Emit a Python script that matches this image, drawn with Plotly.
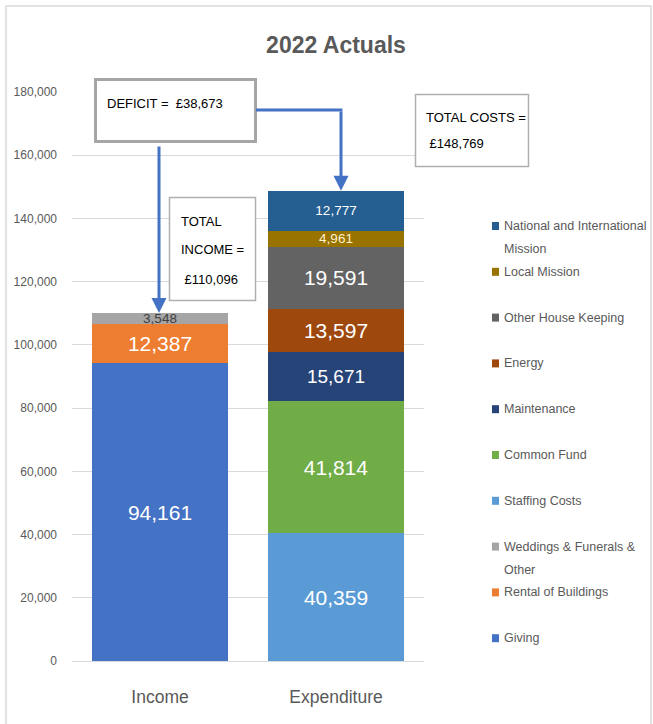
import plotly.graph_objects as go

# ---------------- data ----------------
categories = ["Income", "Expenditure"]

income_names = ["Giving", "Rental of Buildings", "Weddings & Funerals & Other"]
income_values = [94161, 12387, 3548]

expenditure_names = ["Staffing Costs", "Common Fund", "Maintenance", "Energy",
                     "Other House Keeping", "Local Mission",
                     "National and International Mission"]
expenditure_values = [40359, 41814, 15671, 13597, 19591, 4961, 12777]

y_ticks = [0, 20000, 40000, 60000, 80000, 100000, 120000, 140000, 160000, 180000]

title_text = "2022 Actuals"
deficit_text = "DEFICIT =\u00a0\u00a0£38,673"
income_box_lines = ["TOTAL", "INCOME =", "\u00a0£110,096"]
costs_box_lines = ["TOTAL COSTS =", "\u00a0£148,769"]

# legend (top to bottom) with wrapped lines
legend_entries = [
    ["National and International", "Mission"],
    ["Local Mission"],
    ["Other House Keeping"],
    ["Energy"],
    ["Maintenance"],
    ["Common Fund"],
    ["Staffing Costs"],
    ["Weddings & Funerals &", "Other"],
    ["Rental of Buildings"],
    ["Giving"],
]

# ---------------- styles ----------------
income_colors = ["#4472C4", "#ED7D31", "#A5A5A5"]
income_label_colors = ["#FFFFFF", "#FFFFFF", "#404040"]
income_label_sizes = [21, 21, 13.5]

exp_colors = ["#5B9BD5", "#70AD47", "#264478", "#9E480E", "#636363", "#997300", "#255E91"]
exp_label_colors = ["#FFFFFF", "#FFFFFF", "#FFFFFF", "#FFFFFF", "#FFFFFF", "#FFF2CC", "#FFFFFF"]
exp_label_sizes = [21, 21, 19, 21, 21, 13.5, 13.5]

legend_colors = exp_colors[::-1] + income_colors[::-1]

FONT = "Liberation Sans, Arial, sans-serif"
TXT = "#595959"
ARROW = "#4472C4"

W, H = 653, 724
L, R, T, B = 72, 424, 92, 661


def px(x):
    return (x - L) / (R - L)


def py(y):
    return (B - y) / (B - T)


fig = go.Figure()

for name, val, col, lc, ls in zip(income_names, income_values, income_colors,
                                   income_label_colors, income_label_sizes):
    fig.add_trace(go.Bar(
        x=[categories[0]], y=[val], name=name, marker_color=col,
        marker_line_width=0,
        texttemplate="%{y:,.0f}", textposition="inside", insidetextanchor="middle",
        textangle=0, constraintext="none",
        textfont=dict(family=FONT, size=ls, color=lc), showlegend=False,
        hoverinfo="name+y",
    ))

for name, val, col, lc, ls in zip(expenditure_names, expenditure_values, exp_colors,
                                   exp_label_colors, exp_label_sizes):
    fig.add_trace(go.Bar(
        x=[categories[1]], y=[val], name=name, marker_color=col,
        marker_line_width=0,
        texttemplate="%{y:,.0f}", textposition="inside", insidetextanchor="middle",
        textangle=0, constraintext="none",
        textfont=dict(family=FONT, size=ls, color=lc), showlegend=False,
        hoverinfo="name+y",
    ))

income_total = sum(income_values)
exp_total = sum(expenditure_values)

shapes = []
annotations = []

# outer chart border
shapes.append(dict(type="rect", xref="paper", yref="paper",
                   x0=px(6), x1=px(651), y0=py(740), y1=py(6),
                   line=dict(color="#D9D9D9", width=1.5), layer="below"))

# DEFICIT box
shapes.append(dict(type="rect", xref="paper", yref="paper",
                   x0=px(95.5), x1=px(255.5), y0=py(141.5), y1=py(79.5),
                   fillcolor="white", line=dict(color="#A6A6A6", width=3), layer="above"))
annotations.append(dict(xref="paper", yref="paper", x=px(105), y=py(104),
                        xanchor="left", yanchor="middle", showarrow=False,
                        text=deficit_text, font=dict(family=FONT, size=13, color="#000000")))

# TOTAL INCOME box
shapes.append(dict(type="rect", xref="paper", yref="paper",
                   x0=px(169.5), x1=px(255.5), y0=py(300.5), y1=py(197.5),
                   fillcolor="white", line=dict(color="#AFAFAF", width=1.5), layer="above"))
for line, yy in zip(income_box_lines, [221, 249, 279]):
    annotations.append(dict(xref="paper", yref="paper", x=px(179), y=py(yy),
                            xanchor="left", yanchor="middle", showarrow=False,
                            text=line, font=dict(family=FONT, size=13, color="#000000")))

# TOTAL COSTS box
shapes.append(dict(type="rect", xref="paper", yref="paper",
                   x0=px(415.5), x1=px(528.5), y0=py(166.5), y1=py(94.5),
                   fillcolor="white", line=dict(color="#AFAFAF", width=1.5), layer="above"))
for line, yy in zip(costs_box_lines, [117, 143]):
    annotations.append(dict(xref="paper", yref="paper", x=px(424), y=py(yy),
                            xanchor="left", yanchor="middle", showarrow=False,
                            text=line, font=dict(family=FONT, size=13, color="#000000")))

# connector: horizontal segment from deficit box to expenditure arrow
shapes.append(dict(type="line", xref="paper", yref="paper",
                   x0=px(256), x1=px(342.5), y0=py(110), y1=py(110),
                   line=dict(color=ARROW, width=3), layer="above"))

# arrows down to the bar totals
annotations.append(dict(x=categories[0], y=income_total, xref="x", yref="y",
                        ax=0, ay=-(B - 145 - income_total * (B - T) / 180000),
                        showarrow=True, arrowhead=2, arrowsize=1, arrowwidth=3,
                        arrowcolor=ARROW, text="", xshift=-1))
annotations.append(dict(x=categories[1], y=exp_total, xref="x", yref="y",
                        ax=0, ay=-(B - 110 - exp_total * (B - T) / 180000),
                        showarrow=True, arrowhead=2, arrowsize=1, arrowwidth=3,
                        arrowcolor=ARROW, text="", xshift=5))

# manual legend
slot_top = 226
slot_step = 45.8
for i, (lines, col) in enumerate(zip(legend_entries, legend_colors)):
    yc = slot_top + i * slot_step
    shapes.append(dict(type="rect", xref="paper", yref="paper",
                       x0=px(492), x1=px(499), y0=py(yc + 4), y1=py(yc - 4),
                       fillcolor=col, line=dict(width=0)))
    for j, ln in enumerate(lines):
        annotations.append(dict(xref="paper", yref="paper", x=px(502), y=py(yc + j * 23),
                                xanchor="left", yanchor="middle", showarrow=False,
                                text=ln, font=dict(family=FONT, size=12.5, color=TXT)))

fig.update_layout(
    width=W, height=H,
    margin=dict(l=L, r=W - R, t=T, b=H - B, pad=0),
    paper_bgcolor="white", plot_bgcolor="white",
    barmode="stack", bargap=0.227,
    title=dict(text=title_text, x=336 / W, xref="container", xanchor="center",
               y=1 - 45 / H, yref="container", yanchor="middle",
               font=dict(family=FONT, size=23, color=TXT, weight="bold")),
    xaxis=dict(categoryorder="array", categoryarray=categories, automargin=False,
               tickfont=dict(family=FONT, size=17.5, color=TXT),
               showline=False, ticks="", ticklabelstandoff=23, showgrid=False),
    yaxis=dict(range=[0, 180000], tickvals=y_ticks, tickformat=",", automargin=False,
               tickfont=dict(family=FONT, size=12, color=TXT),
               showgrid=True, gridcolor="#D9D9D9", gridwidth=1,
               zeroline=True, zerolinecolor="#D9D9D9", zerolinewidth=1,
               showline=False, ticks="", ticklabelstandoff=14),
    shapes=shapes, annotations=annotations,
    showlegend=False,
)

fig.write_html("out.html", config={"displayModeBar": False},
               post_script="document.body.style.margin='0';")
